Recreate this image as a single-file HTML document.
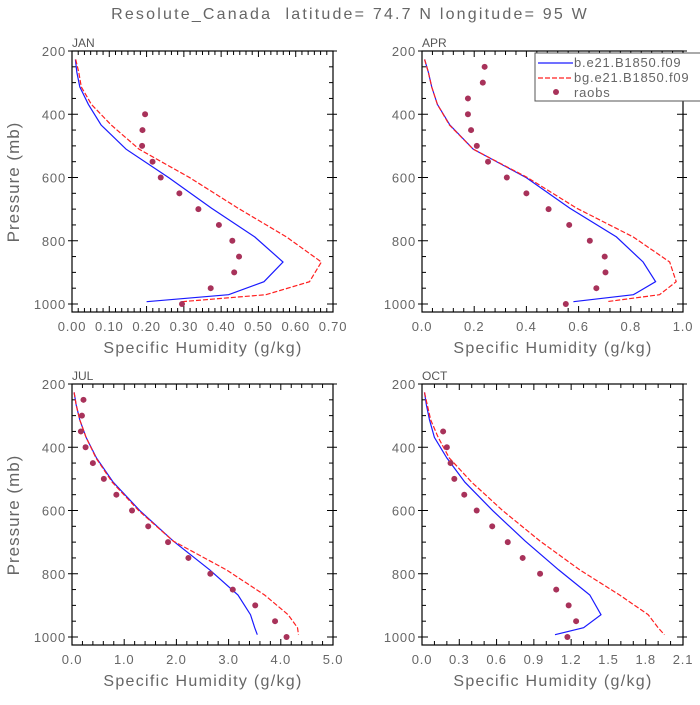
<!DOCTYPE html>
<html><head><meta charset="utf-8">
<style>
html,body{margin:0;padding:0;background:#fff;}
svg text{font-family:"Liberation Sans","DejaVu Sans",sans-serif;}
</style></head>
<body>
<svg id="chart" width="700" height="700" viewBox="0 0 700 700">
<text x="350" y="19" text-anchor="middle" font-size="16" fill="#666" letter-spacing="2.2">Resolute_Canada&#160;&#160;latitude= 74.7 N longitude= 95 W</text>
</svg>
<script>
const levels = [226.5,266.5,313.5,368.8,433.9,510.5,600.5,696.8,787.7,867.2,929.6,970.6,992.6];
const obsLevels = [250,300,350,400,450,500,550,600,650,700,750,800,850,900,950,1000];
const janBlue = [0.009,0.013,0.021,0.044,0.078,0.145,0.26,0.374,0.49,0.566,0.515,0.42,0.20];
const janRed = [0.01,0.018,0.025,0.052,0.105,0.18,0.316,0.445,0.575,0.669,0.637,0.52,0.294];
const janObs = [null,null,null,0.196,0.189,0.188,0.216,0.238,0.288,0.339,0.394,0.430,0.448,0.435,0.372,0.295];
const aprBlue = [0.01,0.024,0.037,0.059,0.107,0.196,0.40,0.566,0.745,0.847,0.895,0.81,0.58];
const aprRed = [0.01,0.024,0.037,0.059,0.105,0.196,0.405,0.592,0.809,0.949,0.974,0.91,0.707];
const aprObs = [0.24,0.233,0.176,0.176,0.188,0.21,0.253,0.325,0.40,0.485,0.564,0.643,0.70,0.703,0.668,0.551];
const julBlue = [0.04,0.08,0.15,0.27,0.47,0.79,1.30,1.94,2.64,3.18,3.42,3.50,3.55];
const julRed = [0.04,0.08,0.15,0.27,0.46,0.77,1.28,1.94,2.96,3.69,4.14,4.32,4.34];
const julObs = [0.22,0.19,0.17,0.26,0.40,0.61,0.85,1.15,1.46,1.84,2.23,2.65,3.08,3.51,3.89,4.11];
const octBlue = [0.02,0.035,0.06,0.10,0.20,0.345,0.57,0.83,1.10,1.35,1.44,1.30,1.07];
const octRed = [0.02,0.043,0.07,0.13,0.22,0.40,0.65,0.95,1.27,1.59,1.82,1.90,1.95];
const octObs = [null,null,0.17,0.20,0.23,0.26,0.34,0.44,0.565,0.69,0.81,0.95,1.08,1.18,1.24,1.17];
const janTicks = ["0.00","0.10","0.20","0.30","0.40","0.50","0.60","0.70"];
const aprTicks = ["0.0","0.2","0.4","0.6","0.8","1.0"];
const julTicks = ["0.0","1.0","2.0","3.0","4.0","5.0"];
const octTicks = ["0.0","0.3","0.6","0.9","1.2","1.5","1.8","2.1"];
const yTicks = [200,400,600,800,1000];

const svg = document.getElementById('chart');
const NS = 'http://www.w3.org/2000/svg';
function mk(tag, attrs, parent){
  const e = document.createElementNS(NS, tag);
  for (const k in attrs) e.setAttribute(k, attrs[k]);
  (parent||svg).appendChild(e);
  return e;
}
function panel(name, L, T, xmax, ticks, minorPer, blue, red, obs, showY){
  const R = L + 261, B = T + 261;
  const g = mk('g', {});
  
  
  const sx = v => L + v / xmax * 261;
  const sy = p => T + (p - 200) * 253 / 800;
  const fr = mk('rect', {x:L, y:T, width:261, height:261, fill:'none', stroke:'#000', 'stroke-width':1.2}, g);
  
  
  for (let p = 200; p <= 1000; p += 50) {
    const y = sy(p), maj = p % 200 === 0;
    mk('line', {x1:L-(maj?4:0), x2:L+(maj?6:4), y1:y, y2:y, stroke:'#000', 'stroke-width':1}, g);
    mk('line', {x1:R-(maj?6:4), x2:R+(maj?4:0), y1:y, y2:y, stroke:'#000', 'stroke-width':1}, g);
  }
  yTicks.forEach(p => {
    const t = mk('text', {x:L-6, y:sy(p)+5, 'text-anchor':'end', 'font-size':13, fill:'#666', 'letter-spacing':'0.8'}, g);
    t.textContent = p;
    
    
  });
  const n = ticks.length - 1;
  for (let i = 0; i <= n * minorPer; i++) {
    const x = L + i * 261 / (n * minorPer), maj = i % minorPer === 0;
    mk('line', {x1:x, x2:x, y1:B, y2:B-(maj?6:4), stroke:'#000', 'stroke-width':1}, g);
    mk('line', {x1:x, x2:x, y1:T, y2:T+(maj?6:4), stroke:'#000', 'stroke-width':1}, g);
  }
  ticks.forEach((s, i) => {
    const t = mk('text', {x:sx(parseFloat(s)), y:B+19, 'text-anchor':'middle', 'font-size':13, fill:'#666', 'letter-spacing':'0.8'}, g);
    t.textContent = s;
    
    
  });
  const xl = mk('text', {x:L+131, y:B+41, 'text-anchor':'middle', 'font-size':16, fill:'#666', 'letter-spacing':'1.3'}, g);
  xl.textContent = 'Specific Humidity (g/kg)';
  
  
  if (showY) {
    const yl = mk('text', {x:0, y:0, 'text-anchor':'middle', 'font-size':17, fill:'#666', 'letter-spacing':'1', transform:'translate(19,'+(T+131)+') rotate(-90)'}, g);
    yl.textContent = 'Pressure (mb)';
    
    
  }
  const pl = mk('text', {x:L, y:T-4, 'font-size':12, fill:'#555'}, g);
  pl.textContent = name.toUpperCase();
  
  
  const ptsB = levels.map((p, i) => sx(blue[i]).toFixed(1) + ',' + sy(p).toFixed(1)).join(' ');
  const lb = mk('polyline', {points:ptsB, fill:'none', stroke:'#1a1aff', 'stroke-width':1.2}, g);
  
  
  const ptsR = levels.map((p, i) => sx(red[i]).toFixed(1) + ',' + sy(p).toFixed(1)).join(' ');
  const lr = mk('polyline', {points:ptsR, fill:'none', stroke:'#ff2020', 'stroke-width':1.2, 'stroke-dasharray':'5,2'}, g);
  
  
  obsLevels.forEach((p, i) => {
    if (obs[i] === null) return;
    const c = mk('circle', {cx:sx(obs[i]), cy:sy(p), r:3, fill:'#a8325a'}, g);
    
    
  });
}
panel('jan', 72, 51, 0.70, janTicks, 6, janBlue, janRed, janObs, true);
panel('apr', 422, 51, 1.0, aprTicks, 5, aprBlue, aprRed, aprObs, false);
panel('jul', 72, 384, 5.0, julTicks, 5, julBlue, julRed, julObs, true);
panel('oct', 422, 384, 2.1, octTicks, 3, octBlue, octRed, octObs, false);

const lg = mk('g', {});


mk('rect', {x:535, y:53, width:170, height:48, fill:'#fff', stroke:'#555', 'stroke-width':1}, lg);
mk('line', {x1:538, x2:573, y1:63, y2:63, stroke:'#1a1aff', 'stroke-width':1.2}, lg);
mk('line', {x1:538, x2:573, y1:78, y2:78, stroke:'#ff2020', 'stroke-width':1.2, 'stroke-dasharray':'5,2'}, lg);
mk('circle', {cx:556, cy:92, r:3, fill:'#a8325a'}, lg);
[['b.e21.B1850.f09',67,'legend-entry-b-e21'],['bg.e21.B1850.f09',82,'legend-entry-bg-e21'],['raobs',97,'legend-entry-raobs']].forEach(d => {
  const t = mk('text', {x:574, y:d[1], 'font-size':13, fill:'#666', 'letter-spacing':'0.8'}, lg);
  t.textContent = d[0];
  
  
});
</script>
</body></html>
